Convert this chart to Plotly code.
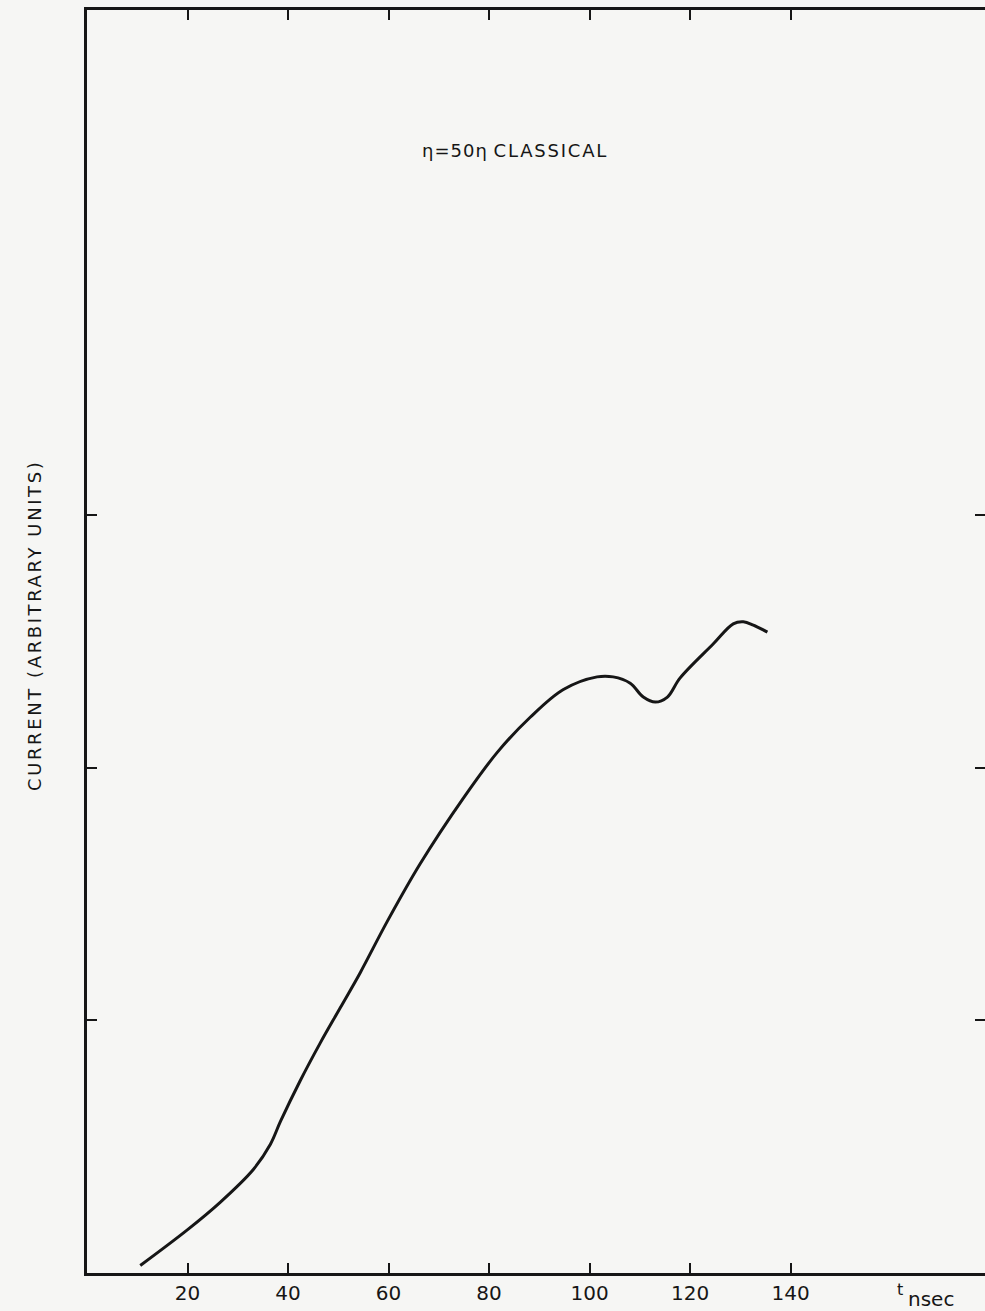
import plotly.graph_objects as go

# Data (t in nsec, current in arbitrary units)
t_nsec = [10.6, 19.9, 26.5, 33.1, 36.5, 38.5, 42.4, 46.4, 50.4, 54.4, 59.7, 66.3,
          74.9, 81.6, 88.2, 94.8, 101.5, 104.7, 108.1, 110.7, 113.1, 115.5, 118.0,
          124.6, 128.6, 130.6, 132.6, 135.4]
current = [0.03, 0.17, 0.28, 0.41, 0.51, 0.60, 0.76, 0.91, 1.05, 1.19, 1.39, 1.62,
           1.88, 2.06, 2.20, 2.31, 2.36, 2.36, 2.335, 2.28, 2.26, 2.28, 2.355,
           2.49, 2.57, 2.578, 2.565, 2.537]

x_ticks = [20, 40, 60, 80, 100, 120, 140]
x_tick_labels = ["20", "40", "60", "80", "100", "120", "140"]
y_ticks = [1, 2, 3]

x_range = [0, 178.7]
y_range = [0, 5]

INK = "#161616"
PAPER = "#f6f6f4"
FONT = "DejaVu Sans"

fig = go.Figure()
fig.add_trace(go.Scatter(
    x=t_nsec, y=current, mode="lines",
    line=dict(color=INK, width=3, shape="spline", smoothing=1.0),
    hoverinfo="skip", showlegend=False,
))
# invisible companion trace so the right-hand (mirrored) tick axis is drawn
fig.add_trace(go.Scatter(
    x=t_nsec, y=current, mode="markers", yaxis="y2",
    marker=dict(opacity=0, size=1), hoverinfo="skip", showlegend=False,
))

fig.update_layout(
    width=985, height=1311,
    margin=dict(l=87, r=0, t=10, b=38),
    paper_bgcolor=PAPER, plot_bgcolor=PAPER,
    font=dict(family=FONT, color=INK),
    showlegend=False,
    xaxis=dict(
        range=x_range, tickvals=x_ticks, ticktext=x_tick_labels,
        ticks="inside", ticklen=10, tickwidth=2, tickcolor=INK,
        showline=True, linewidth=2.5, linecolor=INK, mirror="ticks",
        showgrid=False, zeroline=False,
        tickfont=dict(family=FONT, size=20, color=INK),
    ),
    yaxis=dict(
        range=y_range, tickvals=y_ticks, showticklabels=False,
        ticks="inside", ticklen=10, tickwidth=2, tickcolor=INK,
        showline=True, linewidth=2.5, linecolor=INK,
        showgrid=False, zeroline=False,
    ),
    yaxis2=dict(
        range=y_range, tickvals=y_ticks, showticklabels=False,
        overlaying="y", side="right", anchor="x",
        ticks="inside", ticklen=10, tickwidth=2, tickcolor=INK,
        showline=False, showgrid=False, zeroline=False,
    ),
)

W, H = 898.0, 1263.0  # plot area size in pixels


def px(xp):
    return (xp - 87) / W


def py(yp):
    return (1273 - yp) / H


annotations = [
    dict(text="<span style='letter-spacing:2.6px'>CURRENT (ARBITRARY UNITS)</span>",
         xref="paper", yref="paper", x=px(34), y=py(626), textangle=-90,
         xanchor="center", yanchor="middle", showarrow=False,
         font=dict(family=FONT, size=18, color=INK)),
    dict(text="<span style='letter-spacing:1px'>η=50η</span> <span style='letter-spacing:1.8px'>CLASSICAL</span>",
         xref="paper", yref="paper", x=px(515), y=py(150),
         xanchor="center", yanchor="middle", showarrow=False,
         font=dict(family=FONT, size=18, color=INK)),
    dict(text="t", xref="paper", yref="paper", x=px(900), y=py(1289),
         xanchor="center", yanchor="middle",
         showarrow=False, font=dict(family=FONT, size=16, color=INK)),
    dict(text="nsec", xref="paper", yref="paper", x=px(931), y=py(1299),
         xanchor="center", yanchor="middle",
         showarrow=False, font=dict(family=FONT, size=20, color=INK)),
]
fig.update_layout(annotations=annotations)

fig.write_html(
    "out.html",
    config={"displayModeBar": False},
    post_script="document.body.style.margin='0';document.body.style.background='%s';" % PAPER,
)
